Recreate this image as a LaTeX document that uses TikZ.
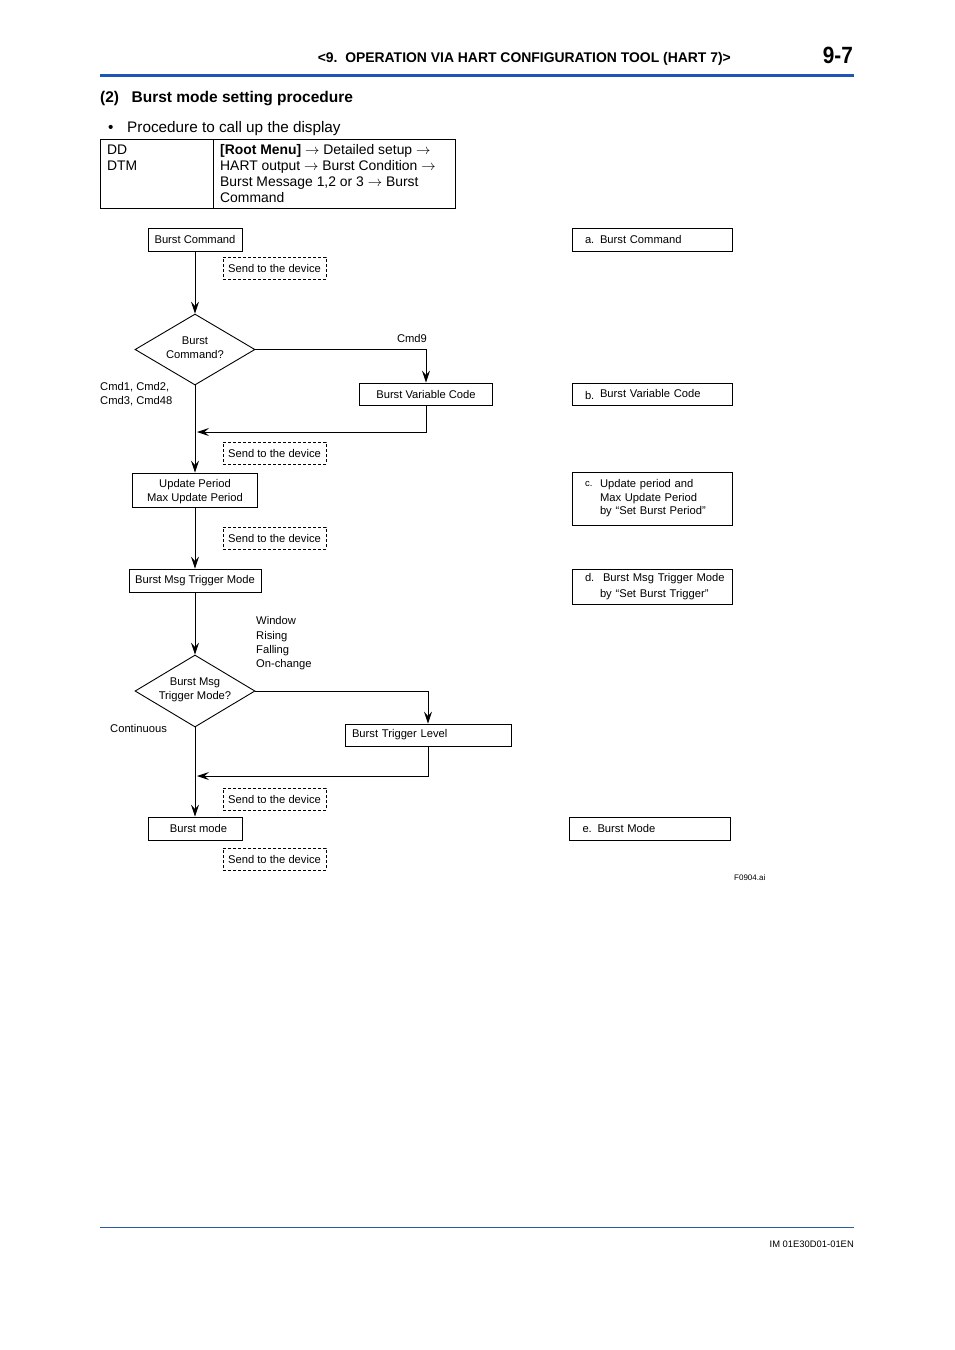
\documentclass[tikz,border=0pt]{standalone}
\usepackage{fontspec}
\setmainfont{Liberation Sans}
\usepackage{graphicx}
\usetikzlibrary{shapes.geometric,arrows.meta}
\definecolor{hdrblue}{RGB}{31,85,181}
\definecolor{ftrblue}{RGB}{45,90,160}
\newcommand\dfont{\fontsize{11.2pt}{14pt}\selectfont}
\newcommand\tfont{\fontsize{13.9pt}{16pt}\selectfont}
\newcommand\tarr{$\rightarrow$}
\begin{document}
\begin{tikzpicture}[x=1pt,y=-1pt,
  box/.style={draw, line width=0.9pt, inner sep=0pt, font=\dfont, align=center},
  sendbox/.style={draw, line width=0.9pt, dash pattern=on 3pt off 2pt, inner sep=0pt,
                  minimum width=103pt, minimum height=22pt, font=\dfont},
  dec/.style={draw, diamond, line width=0.9pt, inner sep=0pt, minimum width=120pt, minimum height=71pt},
  arr/.style={line width=0.9pt, -{Stealth[length=12pt,width=8pt,inset=4.5pt]}},
  lbl/.style={font=\dfont, inner sep=0pt, align=left},
  rbox/.style={box, minimum width=160pt, text width=134pt, align=left}
]
\useasboundingbox (0,0) rectangle (954,1350);
\fill[white] (0,0) rectangle (954,1350);

% header
\node[anchor=base east, inner sep=0pt] (hdr) at (731,62)
  {\resizebox{413pt}{\height}{\fontsize{14}{16}\selectfont\bfseries <9.\ \ OPERATION VIA HART CONFIGURATION TOOL (HART 7)>}};
\node[anchor=base east, inner sep=0pt] (pgno) at (853,63)
  {\resizebox{30pt}{\height}{\fontsize{23.5}{26}\selectfont\bfseries 9-7}};
\draw[hdrblue, line width=3pt] (100,75.2) -- (854,75.2);

% section title
\node[anchor=base west, inner sep=0pt] (sec) at (100,102)
  {\fontsize{15.5}{18}\selectfont\bfseries (2)\hspace{12.5pt}Burst mode setting procedure};
\node[anchor=base west, inner sep=0pt] (bul) at (108,132) {\fontsize{15.3}{18}\selectfont •};
\node[anchor=base west, inner sep=0pt] (proc) at (127,132)
  {\fontsize{15.3}{18}\selectfont Procedure to call up the display};

% table
\draw[line width=0.9pt] (100,139) rectangle (455,208);
\draw[line width=0.9pt] (213,139) -- (213,208);
\node[anchor=base west, inner sep=0pt] (ddtxt) at (107,154)
  {\tfont\begin{tabular}[t]{@{}l@{}}DD\\DTM\end{tabular}};
\node[anchor=base west, inner sep=0pt] (pathtxt) at (220,154)
  {\tfont\begin{tabular}[t]{@{}l@{}}\textbf{[Root Menu]} \tarr{} Detailed setup \tarr\\
   HART output \tarr{} Burst Condition \tarr\\ Burst Message 1,2 or 3 \tarr{} Burst\\ Command\end{tabular}};

% flowchart nodes
\node[box, minimum width=94pt, minimum height=23pt] (bc) at (195,239.5) {Burst Command};
\node[sendbox] (s1) at (274.5,268) {Send to the device};
\node[dec] (d1) at (195,349.5) {};
\node[lbl, align=center] (d1t) at (195,347.5) {Burst\\Command?};
\node[lbl] (cmd9) at (412,338) {Cmd9};
\node[box, minimum width=133pt, minimum height=22pt] (bvc) at (426,394) {Burst Variable Code};
\node[lbl, anchor=west] (cmds) at (100,394) {Cmd1, Cmd2,\\Cmd3, Cmd48};
\coordinate (j1) at (197,432);
\node[sendbox] (s2) at (274.5,453) {Send to the device};
\node[box, minimum width=125pt, minimum height=34pt] (up) at (195,490)
  {\raisebox{-2pt}[\height][\depth]{\begin{tabular}{@{}c@{}}Update Period\\Max Update Period\end{tabular}}};
\node[sendbox] (s3) at (274.5,538) {Send to the device};
\node[box, minimum width=132pt, minimum height=23pt] (bmt) at (195,580.5) {Burst Msg Trigger Mode};
\node[lbl, anchor=west, font=\fontsize{11.2pt}{14.3pt}\selectfont] (trig) at (256,643.5) {Window\\Rising\\Falling\\On-change};
\node[dec, minimum height=72pt] (d2) at (195,691) {};
\node[lbl, align=center] (d2t) at (195,689.5) {Burst Msg\\Trigger Mode?};
\node[lbl, anchor=west] (cont) at (110,728) {Continuous};
\node[box, minimum width=166pt, minimum height=22pt, text width=152pt, align=left] (btl) at (428,735) {Burst Trigger Level};
\coordinate (j2) at (197,776);
\node[sendbox] (s4) at (274.5,799) {Send to the device};
\node[box, minimum width=94pt, minimum height=23pt] (bm) at (195,828.5) {\hspace*{7pt}Burst mode};
\node[sendbox] (s5) at (274.5,859) {Send to the device};

% connectors
\draw[arr] (bc.south) -- (d1.north);
\draw[arr] (d1.east) -| (bvc.north);
\draw[arr] (bvc.south) |- (j1);
\draw[arr] (d1.south) -- (up.north);
\draw[arr] (up.south) -- (bmt.north);
\draw[arr] (bmt.south) -- (d2.north);
\draw[arr] (d2.east) -| (btl.north);
\draw[arr] (btl.south) |- (j2);
\draw[arr] (d2.south) -- (bm.north);

% right-hand boxes
\node[rbox, minimum height=23pt] (ra) at (652,239.5) {\makebox[15pt][l]{a.}Burst Command};
\node[rbox, minimum height=22pt] (rb) at (652,394) {\makebox[15pt][l]{\raisebox{-2pt}{b.}}Burst Variable Code};
\node[rbox, minimum height=53pt, font=\fontsize{11.2pt}{13.5pt}\selectfont] (rc) at (652,498.5)
  {\makebox[15pt][l]{\raisebox{1pt}{\fontsize{9.5}{10}\selectfont c.}}Update period and\\
   \hspace*{15pt}Max Update Period\\ \hspace*{15pt}by “Set Burst Period”};
\node[rbox, minimum height=35pt, font=\fontsize{11.2pt}{16.5pt}\selectfont] (rd) at (652,586.5)
  {\mbox{\makebox[18pt][l]{d.}Burst Msg Trigger Mode}\\ \hspace*{15pt}by “Set Burst Trigger”};
\node[rbox, minimum width=161pt, minimum height=23pt] (re) at (649.5,828.5) {\makebox[15pt][l]{e.}Burst Mode};

\node[anchor=base west, inner sep=0pt, font=\fontsize{8}{9}\selectfont] (fig) at (734,880) {F0904.ai};

% footer
\draw[ftrblue, line width=1pt] (100,1227) -- (854,1227);
\node[anchor=base east, inner sep=0pt, font=\fontsize{9.4}{11}\selectfont] (doc) at (854,1247) {IM 01E30D01-01EN};
\end{tikzpicture}
\end{document}
